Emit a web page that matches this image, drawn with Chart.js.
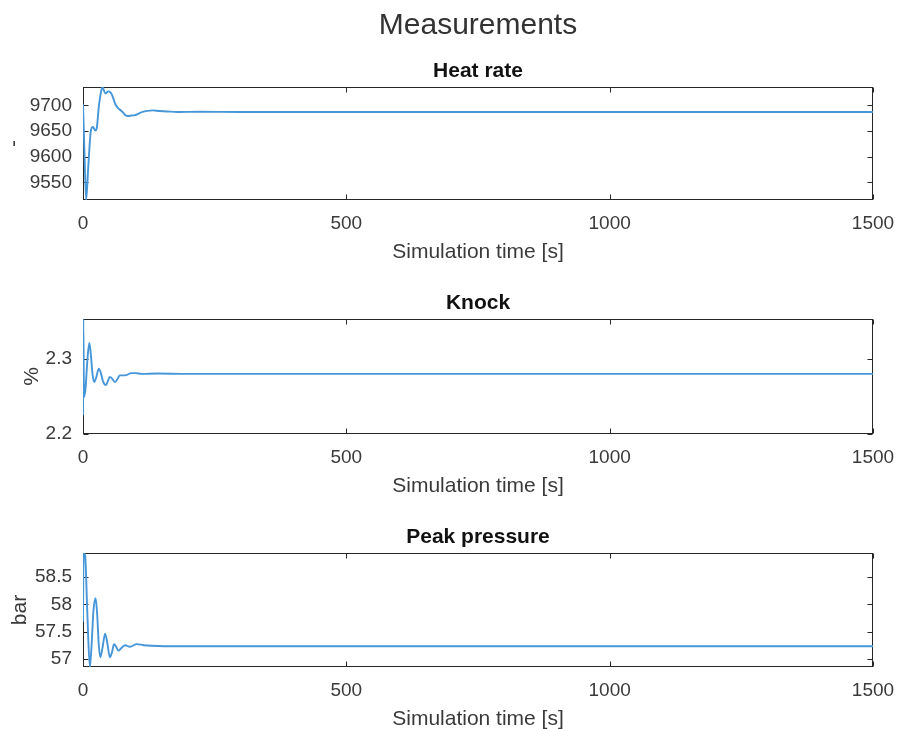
<!DOCTYPE html>
<html>
<head>
<meta charset="utf-8">
<title>Measurements</title>
<script src="https://cdn.jsdelivr.net/npm/chart.js@4/dist/chart.umd.min.js"></script>
<style>
  html, body { margin: 0; padding: 0; background: #fff; overflow: hidden; }
  body { width: 900px; height: 729px; position: relative; }
  canvas { position: absolute; left: 0; }
</style>
</head>
<body>
<canvas id="heat" width="900" height="270" style="top:0px"></canvas>
<canvas id="knock" width="900" height="235" style="top:269px"></canvas>
<canvas id="pressure" width="900" height="234" style="top:503px"></canvas>
<script>
// Simulation time axis
const X_TICKS = [0, 500, 1000, 1500];

// Heat rate [-]
const HEAT_TIME = [0, 3, 6, 10, 15, 19, 23, 26, 30, 34, 37, 40, 43, 48, 52, 56, 61, 67, 72, 76, 80, 85, 92, 99, 106, 113, 122, 132, 145, 160, 180, 220, 300, 500, 800, 1100, 1500];
const HEAT_RATE = [9702, 9600, 9516, 9580, 9651, 9658, 9651, 9655, 9697, 9725, 9736, 9728, 9723, 9727, 9725, 9718, 9703, 9694, 9690, 9686, 9681, 9679, 9680, 9681, 9684, 9687, 9689, 9690, 9689, 9688, 9687, 9687.5, 9687, 9687, 9687, 9687, 9687];
const HEAT_TICKS = [9550, 9600, 9650, 9700];
const HEAT_RANGE = [9515.6, 9735.6];

// Knock [%]
const KNOCK_TIME = [0, 0.5, 2, 5, 8, 12, 15, 18, 21.5, 25, 30, 34, 38, 43.6, 47, 51, 56, 61, 66, 70, 80, 92, 100, 111, 140, 200, 400, 700, 1000, 1300, 1500];
const KNOCK = [2.225, 2.353, 2.249, 2.262, 2.295, 2.321, 2.305, 2.28, 2.269, 2.275, 2.287, 2.281, 2.27, 2.265, 2.27, 2.276, 2.273, 2.269, 2.274, 2.278, 2.278, 2.281, 2.281, 2.28, 2.2805, 2.28, 2.28, 2.28, 2.28, 2.28, 2.28];
const KNOCK_TICKS = [2.2, 2.3];
const KNOCK_RANGE = [2.2, 2.353];

// Peak pressure [bar]
const PRESSURE_TIME = [0, 1, 4, 8, 13, 16, 20, 24, 27, 30, 33, 37, 42, 46, 51, 55, 59, 63, 67, 73, 80, 89, 102, 115, 130, 180, 300, 600, 900, 1200, 1500];
const PRESSURE = [57.68, 58.94, 58.9, 57.9, 56.85, 57.2, 57.9, 58.11, 57.8, 57.25, 57.03, 57.2, 57.46, 57.3, 57.03, 57.12, 57.27, 57.22, 57.15, 57.2, 57.25, 57.22, 57.27, 57.25, 57.24, 57.23, 57.23, 57.23, 57.23, 57.23, 57.23];
const PRESSURE_TICKS = [57, 57.5, 58, 58.5];
const PRESSURE_RANGE = [56.85, 58.94];

const FONT = "'Liberation Sans', Arial, Helvetica, sans-serif";
const AXIS_COLOR = '#262626';
const TEXT_COLOR = '#3a3a3a';
const LINE_COLOR = '#4696d8';

// Axes box with inward tick marks on all four sides
const boxTicks = {
  id: 'boxTicks',
  beforeDatasetsDraw(chart) {
    const { ctx, chartArea: a, scales: { x, y } } = chart;
    const L = Math.round(a.left) + 0.5, R = Math.round(a.right) - 0.5;
    const T = Math.round(a.top) + 0.5, B = Math.round(a.bottom) - 0.5;
    const len = 5;
    ctx.save();
    ctx.strokeStyle = AXIS_COLOR;
    ctx.lineWidth = 1;
    ctx.strokeRect(L, T, R - L, B - T);
    ctx.beginPath();
    x.ticks.forEach(t => {
      const px = Math.round(x.getPixelForValue(t.value)) + 0.5;
      ctx.moveTo(px, B); ctx.lineTo(px, B - len);
      ctx.moveTo(px, T); ctx.lineTo(px, T + len);
    });
    y.ticks.forEach(t => {
      const py = Math.round(y.getPixelForValue(t.value)) + 0.5;
      ctx.moveTo(L, py); ctx.lineTo(L + len, py);
      ctx.moveTo(R, py); ctx.lineTo(R - len, py);
    });
    ctx.stroke();
    ctx.restore();
  }
};

function makePanel(id, times, values, yTicks, yRange, yLabel, yLabelPad, titlePlugins) {
  const points = times.map((t, i) => ({ x: t, y: values[i] }));
  return new Chart(document.getElementById(id), {
    type: 'line',
    data: {
      datasets: [{
        data: points,
        borderColor: LINE_COLOR,
        borderWidth: 1.9,
        pointRadius: 0,
        cubicInterpolationMode: 'monotone',
        fill: false
      }]
    },
    options: {
      responsive: false,
      animation: false,
      devicePixelRatio: 1,
      layout: { padding: { left: 0, right: 27, top: 0, bottom: 0 } },
      plugins: Object.assign({
        legend: { display: false },
        tooltip: { enabled: false }
      }, titlePlugins),
      scales: {
        x: {
          type: 'linear',
          min: X_TICKS[0],
          max: X_TICKS[X_TICKS.length - 1],
          afterBuildTicks: s => { s.ticks = X_TICKS.map(v => ({ value: v })); },
          afterFit: s => { s.height = 70; s.paddingLeft = 0; s.paddingRight = 0; },
          grid: { display: false, drawTicks: false },
          border: { display: false },
          ticks: {
            color: TEXT_COLOR,
            padding: 12,
            maxRotation: 0,
            font: { family: FONT, size: 19 },
            callback: v => String(v)
          },
          title: {
            display: true,
            text: 'Simulation time [s]',
            color: TEXT_COLOR,
            font: { family: FONT, size: 21 },
            padding: { top: 0, bottom: 5.6 }
          }
        },
        y: {
          type: 'linear',
          min: yRange[0],
          max: yRange[1],
          afterBuildTicks: s => { s.ticks = yTicks.map(v => ({ value: v })); },
          afterFit: s => { s.width = 83; },
          grid: { display: false, drawTicks: false },
          border: { display: false },
          ticks: {
            color: TEXT_COLOR,
            padding: 11,
            font: { family: FONT, size: 19 },
            callback: v => String(v)
          },
          title: {
            display: true,
            text: yLabel,
            color: TEXT_COLOR,
            font: { family: FONT, size: 21 },
            padding: { top: yLabelPad, bottom: 0 }
          }
        }
      }
    },
    plugins: [boxTicks]
  });
}

function panelTitle(text) {
  return {
    display: true,
    text: text,
    fullSize: false,
    color: '#111',
    font: { family: FONT, size: 21, weight: 'bold' },
    padding: { top: 21.4, bottom: 3.4 }
  };
}

makePanel('heat', HEAT_TIME, HEAT_RATE, HEAT_TICKS, HEAT_RANGE, '-', 1.5, {
  title: {
    display: true,
    text: 'Measurements',
    fullSize: false,
    color: '#333',
    font: { family: FONT, size: 30, weight: 'normal' },
    padding: { top: 7.8, bottom: 8 }
  },
  subtitle: {
    display: true,
    text: 'Heat rate',
    fullSize: false,
    color: '#111',
    font: { family: FONT, size: 21, weight: 'bold' },
    padding: { top: 6.8, bottom: 3.2 }
  }
});

makePanel('knock', KNOCK_TIME, KNOCK, KNOCK_TICKS, KNOCK_RANGE, '%', 20, {
  title: panelTitle('Knock')
});

makePanel('pressure', PRESSURE_TIME, PRESSURE, PRESSURE_TICKS, PRESSURE_RANGE, 'bar', 8, {
  title: panelTitle('Peak pressure')
});
</script>
</body>
</html>
